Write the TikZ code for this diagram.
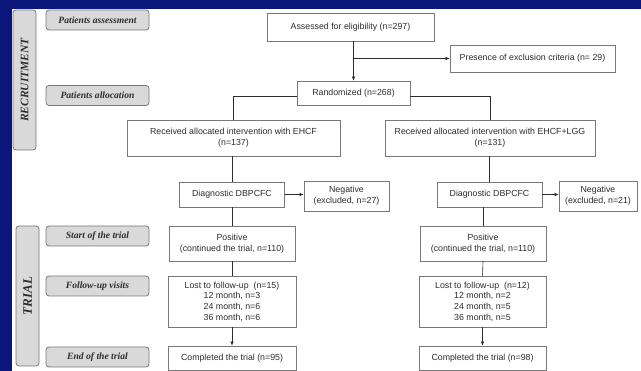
\documentclass[tikz,border=0pt]{standalone}
\usepackage{fontspec}
\setmainfont{Liberation Sans}
\newfontfamily\stagefont{Liberation Serif}
\usetikzlibrary{positioning, arrows.meta}
\definecolor{navy}{RGB}{10,22,122}
\definecolor{boxline}{RGB}{120,120,120}
\definecolor{stagefill}{RGB}{217,217,217}
\definecolor{txt}{RGB}{45,45,45}

\begin{document}
\begin{tikzpicture}[x=1pt, y=-1pt,
        flowbox/.style={draw=boxline, line width=0.7pt, fill=white, align=center, inner sep=1pt,
            text=txt, font=\fontsize{8.8}{10.7}\selectfont},
        stagebox/.style={draw=boxline, line width=0.8pt, fill=stagefill, rounded corners=3pt,
            minimum width=103pt, minimum height=20pt, text=txt,
            font=\stagefont\bfseries\itshape\fontsize{9.6}{11}\selectfont},
        sidebar/.style={draw=boxline, line width=0.8pt, fill=stagefill, rounded corners=3pt,
            rotate=90, minimum width=140pt, minimum height=23pt, text=txt},
        link/.style={draw=txt, line width=0.6pt},
        arr/.style={link, -{Latex[length=4pt, width=3.5pt]}}]

        \useasboundingbox (0,0) rectangle (641,371);
        \fill[navy] (0,0) rectangle (641,371);
        \fill[white] (12,9) rectangle (641,371);

        \node[sidebar, font=\stagefont\bfseries\itshape\fontsize{11.5}{12}\selectfont] (recruit) at (24.5, 80) {RECRUITMENT};
        \node[sidebar, font=\stagefont\bfseries\itshape\fontsize{13}{14}\selectfont] (trial) at (27.5, 296) {TRIAL};

        \node[stagebox] (lblassess) at (97.5, 20) {Patients assessment};
        \node[stagebox] (lblalloc) at (97.5, 95.5) {Patients allocation};
        \node[stagebox] (lblstart) at (97.5, 236) {Start of the trial};
        \node[stagebox] (lblfollow) at (97.5, 286) {Follow-up visits};
        \node[stagebox] (lblend) at (97.5, 357) {End of the trial};

        \node[flowbox, minimum width=167pt, minimum height=28pt] (assess) at (350.5, 27) {Assessed for eligibility (n=297)};
        \node[flowbox, minimum width=165pt, minimum height=27pt] (excl) at (532.5, 58.5) {Presence of exclusion criteria (n= 29)};
        \node[flowbox, minimum width=113pt, minimum height=24pt] (rand) at (353.5, 93) {Randomized (n=268)};

        \node[flowbox, minimum width=213pt, minimum height=36pt] (ehcf) at (233.5, 138) {Received allocated intervention with EHCF\\(n=137)};
        \node[flowbox, minimum width=210pt, minimum height=36pt] (lgg) at (490, 138) {Received allocated intervention with EHCF+LGG\\(n=131)};

        \node[flowbox, minimum width=105pt, minimum height=25pt] (diaga) at (232, 194.5) {Diagnostic DBPCFC};
        \node[flowbox, minimum width=85pt, minimum height=30pt] (nega) at (346.5, 196) {Negative\\(excluded, n=27)};
        \node[flowbox, minimum width=105pt, minimum height=25pt] (diagb) at (489.5, 194.5) {Diagnostic DBPCFC};
        \node[flowbox, minimum width=78pt, minimum height=30pt] (negb) at (598, 196) {Negative\\(excluded, n=21)};

        \node[flowbox, minimum width=126pt, minimum height=35pt] (posa) at (232, 243.5) {Positive\\(continued the trial, n=110)};
        \node[flowbox, minimum width=126pt, minimum height=35pt] (posb) at (483, 243.5) {Positive\\(continued the trial, n=110)};

        \node[flowbox, minimum width=128pt, minimum height=51pt] (losta) at (232, 301.5) {Lost to follow-up~~(n=15)\\12 month, n=3\\24 month, n=6\\36 month, n=6};
        \node[flowbox, minimum width=127pt, minimum height=51pt] (lostb) at (482.5, 301.5) {Lost to follow-up~~(n=12)\\12 month, n=2\\24 month, n=5\\36 month, n=5};

        \node[flowbox, minimum width=128pt, minimum height=24pt] (compa) at (232, 358) {Completed the trial (n=95)};
        \node[flowbox, minimum width=127pt, minimum height=24pt] (compb) at (482.5, 358) {Completed the trial (n=98)};

        \draw[arr] (assess.south -| rand.north) -- (rand.north);
        \draw[arr] (rand.north |- excl.west) -- (excl.west);
        \draw[link] ([yshift=-3pt]rand.west) -| (ehcf.north);
        \draw[link] ([yshift=-3pt]rand.east) -| (lgg.north);

        \draw[link] (diaga.north |- ehcf.south) -- (diaga.north);
        \draw[link] (diagb.north |- lgg.south) -- (diagb.north);
        \draw[arr] (diaga.east) -- (diaga.east -| nega.west);
        \draw[arr] (diagb.east) -- (diagb.east -| negb.west);
        \draw[link] (diaga.south) -- (posa.north);
        \draw[link] (posb.north |- diagb.south) -- (posb.north);

        \draw[link] (posa.south) -- (losta.north);
        \draw[link] (posb.south) -- (lostb.north);
        \draw[arr] (losta.south) -- (compa.north);
        \draw[arr] (lostb.south) -- (compb.north);
    \end{tikzpicture}
\end{document}
